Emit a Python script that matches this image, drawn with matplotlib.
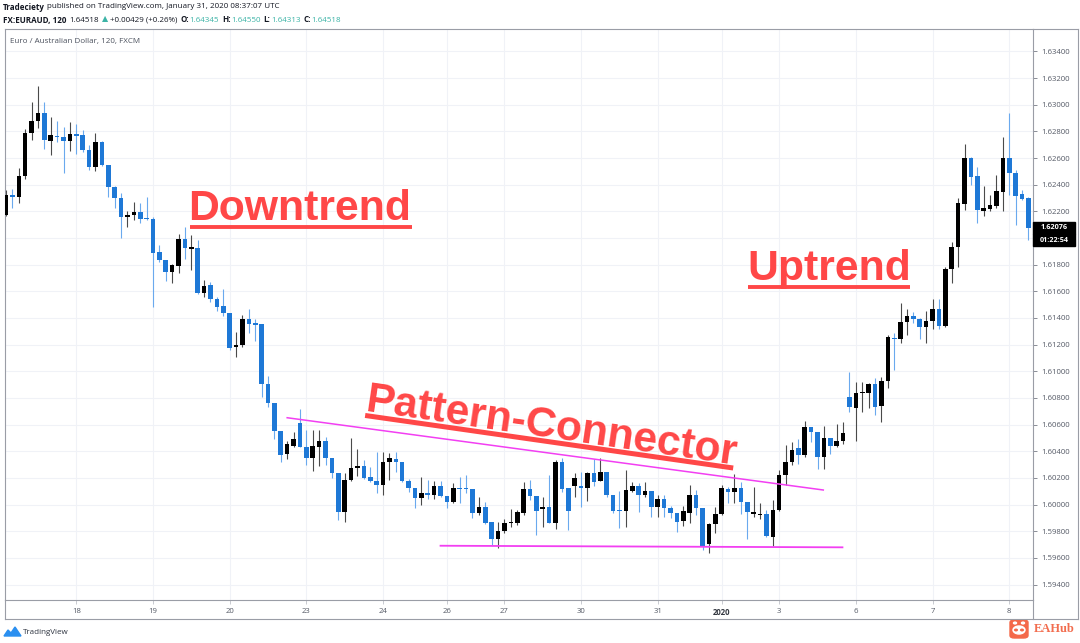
import matplotlib
matplotlib.use("Agg")
import matplotlib.pyplot as plt
import numpy as np
from matplotlib.lines import Line2D
from matplotlib.patches import Rectangle, FancyBboxPatch, Ellipse, Circle, Polygon

# EURAUD 2h candles (open, high, low, close)
opens = [1.62173, 1.62323, 1.62308, 1.62465, 1.62788, 1.62878, 1.62938, 1.62728, 1.62765, 1.62758,
         1.62728, 1.62780, 1.62773, 1.62660, 1.62533, 1.62720, 1.62548, 1.62383, 1.62300, 1.62158,
         1.62173, 1.62195, 1.62150, 1.62143, 1.61895, 1.61835, 1.61745, 1.61790, 1.61993, 1.61918,
         1.61925, 1.61588, 1.61648, 1.61543, 1.61490, 1.61438, 1.61183, 1.61198, 1.61393, 1.61363,
         1.61355, 1.60905, 1.60763, 1.60553, 1.60380, 1.60440, 1.60613, 1.60433, 1.60350, 1.60433,
         1.60478, 1.60350, 1.60238, 1.59945, 1.60185, 1.60275, 1.60290, 1.60208, 1.60178, 1.60148,
         1.60320, 1.60343, 1.60320, 1.60178, 1.60125, 1.60050, 1.60088, 1.60073, 1.60140, 1.60065,
         1.60020, 1.60125, 1.60125, 1.60118, 1.59938, 1.59983, 1.59870, 1.59743, 1.59803, 1.59863,
         1.59863, 1.59938, 1.60118, 1.60065, 1.59968, 1.59983, 1.59863, 1.60320, 1.60125, 1.60140,
         1.60140, 1.60125, 1.60238, 1.60178, 1.60245, 1.60073, 1.59960, 1.59953, 1.60103, 1.60140,
         1.60073, 1.60103, 1.59983, 1.60043, 1.59975, 1.59938, 1.59878, 1.59938, 1.60073, 1.59975,
         1.59705, 1.59855, 1.59930, 1.60118, 1.60095, 1.60125, 1.60020, 1.59930, 1.59923, 1.59930,
         1.59758, 1.59960, 1.60223, 1.60320, 1.60425, 1.60373, 1.60583, 1.60545, 1.60358, 1.60500,
         1.60440, 1.60478, 1.60808, 1.60725, 1.60838, 1.60838, 1.60905, 1.60740, 1.60928, 1.61250,
         1.61243, 1.61370, 1.61415, 1.61393, 1.61333, 1.61378, 1.61468, 1.61340, 1.61768, 1.61933,
         1.62255, 1.62600, 1.62465, 1.62203, 1.62218, 1.62240, 1.62345, 1.62600, 1.62488, 1.62330,
         1.62300]
highs = [1.62360, 1.62368, 1.62525, 1.62818, 1.63020, 1.63140, 1.63020, 1.62908, 1.62878, 1.62833,
         1.62870, 1.62855, 1.62810, 1.62698, 1.62788, 1.62728, 1.62548, 1.62390, 1.62338, 1.62203,
         1.62270, 1.62263, 1.62308, 1.62158, 1.61948, 1.61835, 1.61805, 1.62030, 1.62083, 1.62023,
         1.61985, 1.61685, 1.61670, 1.61558, 1.61618, 1.61438, 1.61295, 1.61423, 1.61468, 1.61393,
         1.61355, 1.60965, 1.60763, 1.60553, 1.60478, 1.60545, 1.60718, 1.60560, 1.60560, 1.60560,
         1.60508, 1.60350, 1.60238, 1.60238, 1.60500, 1.60418, 1.60335, 1.60283, 1.60395, 1.60395,
         1.60388, 1.60395, 1.60320, 1.60193, 1.60125, 1.60208, 1.60185, 1.60178, 1.60178, 1.60065,
         1.60163, 1.60208, 1.60223, 1.60118, 1.60058, 1.60020, 1.59870, 1.59870, 1.59893, 1.59968,
         1.59960, 1.60170, 1.60185, 1.60065, 1.60058, 1.60223, 1.60335, 1.60350, 1.60125, 1.60238,
         1.60245, 1.60245, 1.60343, 1.60350, 1.60245, 1.60073, 1.60103, 1.60260, 1.60170, 1.60163,
         1.60170, 1.60103, 1.60073, 1.60073, 1.59990, 1.59938, 1.59990, 1.60148, 1.60110, 1.59975,
         1.59863, 1.59983, 1.60148, 1.60133, 1.60230, 1.60170, 1.60020, 1.60133, 1.60013, 1.59960,
         1.60035, 1.60260, 1.60448, 1.60470, 1.60493, 1.60628, 1.60583, 1.60545, 1.60590, 1.60500,
         1.60605, 1.60620, 1.60995, 1.60920, 1.60920, 1.60913, 1.60950, 1.60958, 1.61273, 1.61288,
         1.61513, 1.61468, 1.61445, 1.61400, 1.61453, 1.61543, 1.61543, 1.61783, 1.61970, 1.62300,
         1.62705, 1.62608, 1.62533, 1.62390, 1.62323, 1.62473, 1.62758, 1.62938, 1.62510, 1.62360,
         1.62308]
lows = [1.62165, 1.62225, 1.62263, 1.62443, 1.62735, 1.62825, 1.62668, 1.62623, 1.62720, 1.62488,
        1.62653, 1.62630, 1.62645, 1.62510, 1.62503, 1.62540, 1.62308, 1.62225, 1.62000, 1.62083,
        1.62135, 1.62113, 1.62135, 1.61483, 1.61820, 1.61678, 1.61663, 1.61738, 1.61843, 1.61760,
        1.61580, 1.61558, 1.61520, 1.61453, 1.61415, 1.61160, 1.61108, 1.61183, 1.61288, 1.61228,
        1.60808, 1.60733, 1.60493, 1.60320, 1.60343, 1.60433, 1.60433, 1.60298, 1.60253, 1.60290,
        1.60298, 1.60200, 1.59885, 1.59870, 1.60178, 1.60215, 1.60193, 1.60170, 1.60088, 1.60073,
        1.60185, 1.60245, 1.60170, 1.60095, 1.59975, 1.59998, 1.60043, 1.60043, 1.60058, 1.59975,
        1.60013, 1.60013, 1.60088, 1.59900, 1.59923, 1.59855, 1.59698, 1.59675, 1.59788, 1.59833,
        1.59848, 1.59923, 1.60035, 1.59773, 1.59833, 1.59863, 1.59818, 1.60095, 1.59810, 1.60058,
        1.59983, 1.60028, 1.60140, 1.60178, 1.60058, 1.59938, 1.59825, 1.59833, 1.60095, 1.59945,
        1.60058, 1.59908, 1.59908, 1.59908, 1.59900, 1.59795, 1.59840, 1.59863, 1.59923, 1.59660,
        1.59638, 1.59788, 1.59923, 1.60013, 1.60013, 1.59930, 1.59743, 1.59908, 1.59893, 1.59758,
        1.59690, 1.59953, 1.60148, 1.60298, 1.60305, 1.60358, 1.60470, 1.60268, 1.60268, 1.60380,
        1.60433, 1.60455, 1.60695, 1.60478, 1.60695, 1.60725, 1.60673, 1.60620, 1.60875, 1.61010,
        1.61213, 1.61273, 1.61363, 1.61243, 1.61213, 1.61318, 1.61318, 1.61333, 1.61663, 1.61783,
        1.62210, 1.62398, 1.62113, 1.62165, 1.62203, 1.62225, 1.62203, 1.62323, 1.62098, 1.62285,
        1.61985]
closes = [1.62323, 1.62308, 1.62465, 1.62788, 1.62878, 1.62938, 1.62735, 1.62773, 1.62758, 1.62728,
          1.62780, 1.62765, 1.62660, 1.62533, 1.62720, 1.62548, 1.62383, 1.62300, 1.62158, 1.62173,
          1.62195, 1.62143, 1.62143, 1.61888, 1.61835, 1.61745, 1.61798, 1.61993, 1.61925, 1.61933,
          1.61588, 1.61640, 1.61543, 1.61483, 1.61438, 1.61175, 1.61198, 1.61393, 1.61355, 1.61348,
          1.60905, 1.60763, 1.60553, 1.60373, 1.60455, 1.60493, 1.60433, 1.60350, 1.60440, 1.60478,
          1.60350, 1.60238, 1.59945, 1.60185, 1.60275, 1.60290, 1.60200, 1.60178, 1.60148, 1.60320,
          1.60350, 1.60320, 1.60178, 1.60125, 1.60050, 1.60088, 1.60073, 1.60140, 1.60065, 1.60020,
          1.60125, 1.60118, 1.60118, 1.59938, 1.59983, 1.59863, 1.59743, 1.59803, 1.59863, 1.59870,
          1.59945, 1.60118, 1.60065, 1.59953, 1.59983, 1.59863, 1.60320, 1.60118, 1.59953, 1.60200,
          1.60125, 1.60238, 1.60170, 1.60245, 1.60073, 1.59953, 1.59953, 1.60110, 1.60140, 1.60073,
          1.60103, 1.59983, 1.60043, 1.59975, 1.59938, 1.59870, 1.59953, 1.60073, 1.59975, 1.59683,
          1.59855, 1.59930, 1.60125, 1.60095, 1.60125, 1.60020, 1.59945, 1.59945, 1.59930, 1.59765,
          1.59960, 1.60223, 1.60320, 1.60410, 1.60373, 1.60583, 1.60545, 1.60358, 1.60500, 1.60440,
          1.60478, 1.60538, 1.60733, 1.60838, 1.60845, 1.60905, 1.60733, 1.60928, 1.61258, 1.61243,
          1.61370, 1.61415, 1.61393, 1.61333, 1.61378, 1.61468, 1.61340, 1.61768, 1.61933, 1.62263,
          1.62600, 1.62458, 1.62210, 1.62225, 1.62248, 1.62353, 1.62600, 1.62488, 1.62315, 1.62293,
          1.62076]

# time axis (candle index of each day label)
day_pos = [11, 23, 35, 47, 59, 69, 78, 90, 102, 112, 121, 133, 145, 157]
day_labels = ["18", "19", "20", "23", "24", "26", "27", "30", "31", "2020", "3", "6", "7", "8"]

price_ticks = np.round(np.arange(1.594, 1.6341, 0.002), 3)

# hand-drawn trend lines (candle index, price)
upper_line_x = [44.0, 127.9]
upper_line_y = [1.60652, 1.60110]
lower_line_x = [68.0, 130.9]
lower_line_y = [1.59692, 1.59680]

last_price = "1.62076"
countdown = "01:22:54"

W, H = 1080, 643
UP_COLOR = "#000000"
DOWN_COLOR = "#1e78d6"
UP_WICK = "#4a4a4a"
DOWN_WICK = "#6aa9ee"
RED = "#ff4747"
MAGENTA = "#f23ff2"
UI_FONT = ["Open Sans", "DejaVu Sans"]


def fx(px):
    return px / W


def fy(py):
    return 1 - py / H


def text_runs(fig, x, y, runs, size):
    # draw pieces of text one after another on a line (x, y in pixels)
    renderer = fig.canvas.get_renderer()
    for s, color, weight, gap in runs:
        x += gap
        t = fig.text(fx(x), fy(y), s, color=color, fontweight=weight, fontsize=size,
                     family=UI_FONT, va="center", ha="left")
        x += t.get_window_extent(renderer).width


def draw_candles(ax):
    o = np.array(opens)
    h = np.array(highs)
    l = np.array(lows)
    c = np.array(closes)
    x = np.arange(len(o))
    up = c >= o
    bottom = np.minimum(o, c)
    height = np.maximum(np.abs(c - o), 0.00008)
    ax.vlines(x[up], l[up], h[up], color=UP_WICK, lw=0.8, zorder=2)
    ax.vlines(x[~up], l[~up], h[~up], color=DOWN_WICK, lw=0.8, zorder=2)
    ax.bar(x[up], height[up], bottom=bottom[up], width=0.72, color=UP_COLOR, lw=0, zorder=3)
    ax.bar(x[~up], height[~up], bottom=bottom[~up], width=0.72, color=DOWN_COLOR, lw=0, zorder=3)


def main():
    fig = plt.figure(figsize=(W / 100, H / 100), dpi=100)
    fig.patch.set_facecolor("white")

    ax = fig.add_axes([fx(5), fy(600), fx(1033) - fx(5), fy(29) - fy(600)])
    ax.set_xlim(-0.16, 160.72)
    ax.set_ylim(1.59285, 1.635675)

    draw_candles(ax)

    # grid and axes
    ax.set_yticks(price_ticks)
    ax.set_yticklabels(["%.5f" % p for p in price_ticks])
    ax.yaxis.tick_right()
    ax.set_xticks(day_pos)
    ax.set_xticklabels(day_labels)
    ax.grid(True, color="#f0f2f7", lw=0.8, zorder=0)
    ax.set_axisbelow(True)
    ax.tick_params(axis="y", direction="out", length=3, width=0.7, color="#8a8d96",
                   labelsize=5.6, labelcolor="#555a66", pad=3)
    ax.tick_params(axis="x", direction="out", length=3, width=0.7, color="#c8cad0",
                   labelsize=5.6, labelcolor="#555a66", pad=3)
    for lab in ax.get_xticklabels():
        lab.set_family(UI_FONT)
        if lab.get_text() == "2020":
            lab.set_fontweight("bold")
            lab.set_color("#333740")
    for lab in ax.get_yticklabels():
        lab.set_family(UI_FONT)
    for sp in ax.spines.values():
        sp.set_color("#9a9da6")
        sp.set_linewidth(0.8)

    # outer frame around price / time scales
    frame = [((5, 619), (1078, 619)), ((1078, 29), (1078, 619)), ((1033, 29), (1078, 29)),
             ((5, 600), (5, 619)), ((1033, 600), (1033, 619))]
    for (x0, y0), (x1, y1) in frame:
        fig.add_artist(Line2D([fx(x0), fx(x1)], [fy(y0), fy(y1)], color="#9a9da6", lw=0.8))

    # trend lines
    ax.plot(upper_line_x, upper_line_y, color=MAGENTA, lw=1.1, zorder=4)
    ax.plot(lower_line_x, lower_line_y, color=MAGENTA, lw=1.3, zorder=4)

    # annotations
    big = dict(color=RED, fontsize=30.8, fontweight="bold", family="Liberation Sans",
               ha="left", va="baseline", zorder=5)
    ax.text(28.5, 1.62135, "Downtrend", **big)
    ax.plot([28.8, 63.5], [1.62079, 1.62079], color=RED, lw=2.8, solid_capstyle="butt", zorder=5)
    ax.text(116.0, 1.61685, "Uptrend", **big)
    ax.plot([116.1, 141.5], [1.61629, 1.61629], color=RED, lw=2.8, solid_capstyle="butt", zorder=5)
    ax.text(56.0, 1.60706, "Pattern-Connector", rotation=-8.3, rotation_mode="anchor", **big)
    ax.plot([56.2, 113.8], [1.60669, 1.60275], color=RED, lw=3.6, solid_capstyle="butt", zorder=5)

    # last price and countdown boxes
    fig.add_artist(Rectangle((fx(1033), fy(233.5)), fx(42), 11.5 / H, color="#000000"))
    fig.add_artist(Rectangle((fx(1033), fy(245.5)), fx(42), 11 / H, color="#000000"))
    fig.text(fx(1054), fy(227.6), last_price, color="white", fontsize=5.2, fontweight="bold",
             family=UI_FONT, ha="center", va="center")
    fig.text(fx(1054), fy(240.2), countdown, color="white", fontsize=5.2, fontweight="bold",
             family=UI_FONT, ha="center", va="center")

    # header lines
    dark = "#131722"
    teal = "#3bb3a6"
    text_runs(fig, 3, 7, [("Tradeciety", dark, "bold", 0),
                          ("published on TradingView.com, January 31, 2020 08:37:07 UTC",
                           dark, "normal", 2.5)], 5.8)
    text_runs(fig, 3, 20, [("FX:EURAUD, 120", dark, "bold", 0),
                           ("1.64518", dark, "normal", 3),
                           ("\u25b2", teal, "normal", 2.5),
                           ("+0.00429 (+0.26%)", dark, "normal", 2.5),
                           ("O:", dark, "bold", 3), ("1.64345", teal, "normal", 0.5),
                           ("H:", dark, "bold", 3), ("1.64550", teal, "normal", 0.5),
                           ("L:", dark, "bold", 3), ("1.64313", teal, "normal", 0.5),
                           ("C:", dark, "bold", 3), ("1.64518", teal, "normal", 0.5)], 5.8)
    fig.text(fx(10), fy(42), "Euro / Australian Dollar, 120, FXCM", color="#4c525e",
             fontsize=5.8, family=UI_FONT, va="center", ha="left")

    # TradingView logo
    cloud = [(4, 636), (8, 630), (11, 633), (15, 627), (21, 636)]
    fig.add_artist(Polygon([(fx(a), fy(b)) for a, b in cloud], closed=True, color="#2a8ff0"))
    fig.text(fx(23), fy(632), "TradingView", color="#2e3440", fontsize=5.8,
             family=UI_FONT, va="center", ha="left")

    # EAHub logo
    fig.add_artist(FancyBboxPatch((fx(1010), fy(638)), fx(18), 18 / H,
                                  boxstyle="round,pad=0,rounding_size=0.004",
                                  color="#f4694a", transform=fig.transFigure))
    fig.add_artist(Ellipse((fx(1019), fy(630)), fx(12), 8 / H, color="white"))
    fig.add_artist(Circle((fx(1016), fy(630)), fx(1.3), color="#f4694a"))
    fig.add_artist(Circle((fx(1022), fy(630)), fx(1.3), color="#f4694a"))
    fig.add_artist(Circle((fx(1015), fy(623)), fx(1.5), color="white"))
    fig.add_artist(Circle((fx(1023), fy(623)), fx(1.5), color="white"))
    fig.text(fx(1034), fy(629), "EAHub", color="#f26d4f", fontsize=9, fontweight="bold",
             family="Liberation Serif", va="center", ha="left")

    fig.savefig("out.png", dpi=100)


if __name__ == "__main__":
    main()
